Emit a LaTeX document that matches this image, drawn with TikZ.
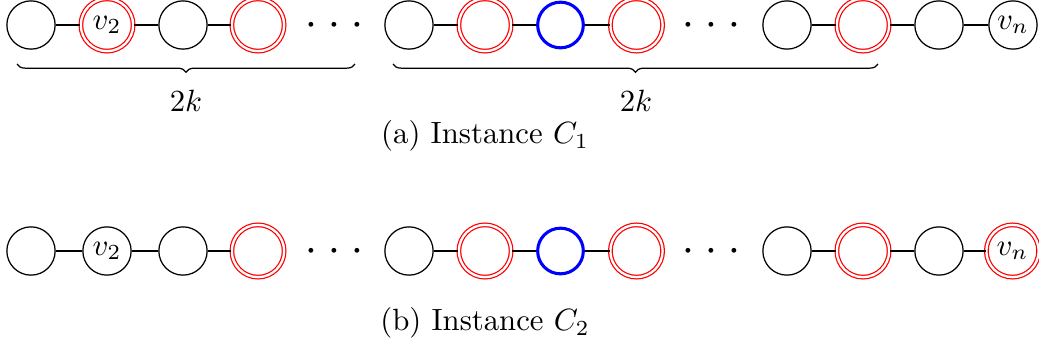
\documentclass[tikz,border=0pt]{standalone}
\usepackage{amsmath}
\usetikzlibrary{decorations.pathreplacing}
\begin{document}
\begin{tikzpicture}[x=0.3252pt,y=-0.3252pt,
  vtx/.style={circle,draw=black,line width=0.4pt,minimum size=15.7pt,inner sep=0pt},
  redv/.style={circle,draw=red,double,double distance=0.75pt,line width=0.4pt,minimum size=17pt,inner sep=0pt},
  bluev/.style={circle,draw=blue,line width=1pt,minimum size=14.85pt,inner sep=0pt},
  edge/.style={draw=black,line width=0.4pt},
  dotn/.style={inner sep=0pt,anchor=base},
  bracedec/.style={decorate,decoration={brace,mirror,amplitude=2.7pt},line width=0.4pt}]
\useasboundingbox (0,0) rectangle (1039,349);
% Row 1
\node[vtx]  (a1)  at (31,25) {};
\node[redv] (a2)  at (107,25) {$v_2$};
\node[vtx]  (a3)  at (183,25) {};
\node[redv] (a4)  at (258,25) {};
\node[dotn] (ad1) at (311,32.5) {$\boldsymbol\cdot$};
\node[dotn] (ad2) at (334,32.5) {$\boldsymbol\cdot$};
\node[dotn] (ad3) at (357,32.5) {$\boldsymbol\cdot$};
\node[vtx]  (a5)  at (409,25) {};
\node[redv] (a6)  at (485,25) {};
\node[bluev](a7)  at (560.5,25) {};
\node[redv] (a8)  at (636.5,25) {};
\node[dotn] (ad4) at (688,32.5) {$\boldsymbol\cdot$};
\node[dotn] (ad5) at (711,32.5) {$\boldsymbol\cdot$};
\node[dotn] (ad6) at (734,32.5) {$\boldsymbol\cdot$};
\node[vtx]  (a9)  at (787,25) {};
\node[redv] (a10) at (863,25) {};
\node[vtx]  (a11) at (939,25) {};
\node[vtx]  (a12) at (1013,25) {$v_n$};
\draw[edge] (a1) -- (a2) (a2) -- (a3) (a3) -- (a4);
\draw[edge] (a5) -- (a6) (a6) -- (a7) (a7) -- (a8);
\draw[edge] (a9) -- (a10) (a10) -- (a11) (a11) -- (a12);
% braces
\coordinate (b1s) at (17,64);
\coordinate (b1e) at (355,64);
\coordinate (b2s) at (393,64);
\coordinate (b2e) at (878,64);
\draw[bracedec] (b1s) -- (b1e);
\draw[bracedec] (b2s) -- (b2e);
\node (l1) at (186,101) {$2k$};
\node (l2) at (636,101) {$2k$};
\node (capa) at (485,136) {(a) Instance $C_1$};
% Row 2
\node[vtx]  (c1)  at (31,251) {};
\node[vtx]  (c2)  at (107,251) {$v_2$};
\node[vtx]  (c3)  at (183,251) {};
\node[redv] (c4)  at (258,251) {};
\node[dotn] (cd1) at (311,258.5) {$\boldsymbol\cdot$};
\node[dotn] (cd2) at (334,258.5) {$\boldsymbol\cdot$};
\node[dotn] (cd3) at (357,258.5) {$\boldsymbol\cdot$};
\node[vtx]  (c5)  at (409,251) {};
\node[redv] (c6)  at (485,251) {};
\node[bluev](c7)  at (560.5,251) {};
\node[redv] (c8)  at (636.5,251) {};
\node[dotn] (cd4) at (688,258.5) {$\boldsymbol\cdot$};
\node[dotn] (cd5) at (711,258.5) {$\boldsymbol\cdot$};
\node[dotn] (cd6) at (734,258.5) {$\boldsymbol\cdot$};
\node[vtx]  (c9)  at (787,251) {};
\node[redv] (c10) at (863,251) {};
\node[vtx]  (c11) at (939,251) {};
\node[redv] (c12) at (1012.5,251) {$v_n$};
\draw[edge] (c1) -- (c2) (c2) -- (c3) (c3) -- (c4);
\draw[edge] (c5) -- (c6) (c6) -- (c7) (c7) -- (c8);
\draw[edge] (c9) -- (c10) (c10) -- (c11) (c11) -- (c12);
\node (capb) at (485,323) {(b) Instance $C_2$};
\end{tikzpicture}
\end{document}
